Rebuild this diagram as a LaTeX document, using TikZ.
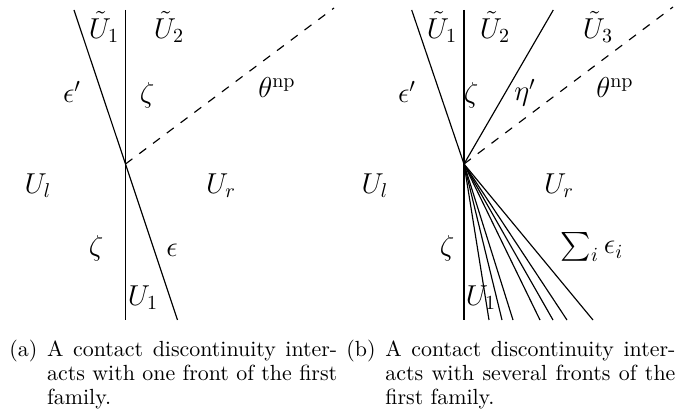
\documentclass[tikz,border=0pt]{standalone}
\usepackage{amsmath, amssymb}
\usetikzlibrary{positioning, calc}

\tikzset{
    front/.style={line width=0.58pt},
    npfront/.style={line width=0.58pt, dash pattern=on 4.3pt off 4.3pt},
    region/.style={font=\Large, inner sep=0pt},
    caplabel/.style={inner sep=0pt, font=\fontsize{10.95}{12}\selectfont},
    captext/.style={inner sep=0pt, text width=145pt, align=justify,
        font=\fontsize{10.95}{12}\selectfont},
}

\begin{document}
\begin{tikzpicture}[x=0.5pt, y=-0.5pt]
    \useasboundingbox (0,0) rectangle (676,417);

    % (a) un fronte
    \begin{scope}
        \coordinate (Oa) at (125.5,164);
        \coordinate (Zta) at (125.5,10);
        \coordinate (Zba) at (125.5,320);
        \coordinate (Eta) at (74,10);
        \coordinate (Eba) at (177.5,320);
        \coordinate (Tta) at (334,8);
        \draw[front] (Zta) -- (Zba);          % contatto
        \draw[front] (Eta) -- (Oa) -- (Eba);  % primo campo
        \draw[npfront] (Oa) -- (Tta);         % onda non fisica

        \node[region] (Ut1a) at (104,27) {$\tilde{U}_1$};
        \node[region] (Ut2a) at (169,27) {$\tilde{U}_2$};
        \node[region] (epa)  at (72,92)  {$\epsilon'$};
        \node[region] (zua)  at (147,95) {$\zeta$};
        \node[region] (tha)  at (277,88) {$\theta^{\mathrm{np}}$};
        \node[region] (Ula)  at (38,186) {$U_l$};
        \node[region] (Ura)  at (221,186) {$U_r$};
        \node[region] (zda)  at (96,248) {$\zeta$};
        \node[region] (ea)   at (172,250) {$\epsilon$};
        \node[region] (U1a)  at (143,298) {$U_1$};

        \node[caplabel, anchor=base west] (laba) at (9,357) {(a)};
        \node[captext, base right=4.5pt of laba] (capa)
            {A contact discontinuity inter-\linebreak acts with one front of the first\linebreak family.};
    \end{scope}

    % (b) piu' fronti
    \begin{scope}[shift={(338.5,0)}]
        \coordinate (Ob) at (125.5,164);
        \coordinate (Ztb) at (125.5,10);
        \coordinate (Zbb) at (125.5,320);
        \coordinate (Etb) at (73.2,10);
        \coordinate (Htb) at (214.8,10);
        \coordinate (Ttb) at (334.5,7);
        \draw[front] (Ztb) -- (Zbb);
        \draw[front] (Etb) -- (Ob) -- (Htb);
        \draw[npfront] (Ob) -- (Ttb);
        \foreach \d in {25,38,49,76,89,103,129}
            \draw[front] (Ob) -- ++(\d,156);  % ventaglio

        \node[region] (Ut1b) at (103.5,27) {$\tilde{U}_1$};
        \node[region] (Ut2b) at (156.5,27) {$\tilde{U}_2$};
        \node[region] (Ut3b) at (259.5,27) {$\tilde{U}_3$};
        \node[region] (epb)  at (68.5,92)  {$\epsilon'$};
        \node[region] (zub)  at (132.5,95) {$\zeta$};
        \node[region] (hpb)  at (186.5,93) {$\eta'$};
        \node[region] (thb)  at (276.5,88) {$\theta^{\mathrm{np}}$};
        \node[region] (Ulb)  at (36.5,186) {$U_l$};
        \node[region] (Urb)  at (220.5,186) {$U_r$};
        \node[region] (sub)  at (253.5,247) {$\sum_i \epsilon_i$};
        \node[region] (zdb)  at (108.5,248) {$\zeta$};
        \node[region] (U1b)  at (142.5,298) {$U_1$};

        \node[caplabel, anchor=base west] (labb) at (7.5,357) {(b)};
        \node[captext, base right=4.5pt of labb] (capb)
            {A contact discontinuity inter-\linebreak acts with several fronts of the\linebreak first family.};
    \end{scope}
\end{tikzpicture}
\end{document}
